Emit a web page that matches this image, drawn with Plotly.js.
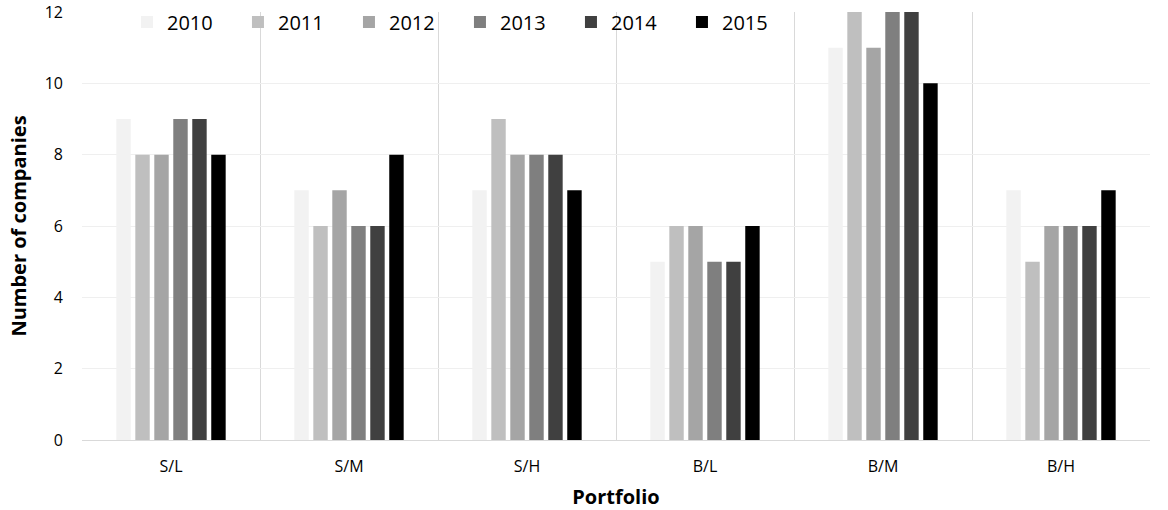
<!DOCTYPE html>
<html><head><meta charset="utf-8">
<script src="https://cdn.plot.ly/plotly-3.0.1.min.js"></script>
<style>html,body{margin:0;padding:0;background:#fff}#chart{width:1168px;height:510px}</style>
</head><body><div id="chart"></div>
<script>
const categories = ["S/L","S/M","S/H","B/L","B/M","B/H"];
const years = ["2010","2011","2012","2013","2014","2015"];
const v2010 = [9,7,7,5,11,7];
const v2011 = [8,6,9,6,12,5];
const v2012 = [8,7,8,6,11,6];
const v2013 = [9,6,8,5,12,6];
const v2014 = [9,6,8,5,12,6];
const v2015 = [8,8,7,6,10,7];
const series = [v2010,v2011,v2012,v2013,v2014,v2015];
const colors = ["#f2f2f2","#bfbfbf","#a5a5a5","#7f7f7f","#404040","#000000"];
const yTicks = [0,2,4,6,8,10,12];

const traces = series.map((s,i)=>({
  type:"bar", x:categories, y:s, name:years[i],
  marker:{color:colors[i], line:{color:colors[i], width:0}}
}));
const font = "Open Sans, Noto Sans, sans-serif";
const layout = {
  width:1168, height:510,
  margin:{l:82, r:18, t:12, b:70, autoexpand:false},
  paper_bgcolor:"#fff", plot_bgcolor:"#fff",
  barmode:"group", bargap:0.36, bargroupgap:0.24,
  font:{family:font, size:15, color:"#000"},
  showlegend:true,
  legend:{orientation:"h", xref:"container", yref:"container", x:0.1087, xanchor:"left", y:0.957, yanchor:"middle",
    bgcolor:"rgba(0,0,0,0)", font:{size:20, color:"#000"}, entrywidth:66, traceorder:"normal"},
  xaxis:{type:"category", tickson:"boundaries", showgrid:true, gridcolor:"#d9d9d9", gridwidth:1,
    ticks:"", showline:true, linecolor:"#d9d9d9", linewidth:1, mirror:false, automargin:false,
    tickfont:{size:16}, ticklabelstandoff:12,
    title:{text:"<b>Portfolio</b>", font:{size:20}, standoff:13}},
  yaxis:{range:[0,12], tickvals:yTicks, ticktext:yTicks.map(String), showgrid:true, gridcolor:"#efefef",
    zeroline:false, showline:false, ticks:"", tickfont:{size:16}, ticklabelstandoff:18, automargin:false,
    title:{text:"<b>Number of companies</b>", font:{size:20}, standoff:12}}
};
Plotly.newPlot("chart", traces, layout, {staticPlot:true});
</script></body></html>
